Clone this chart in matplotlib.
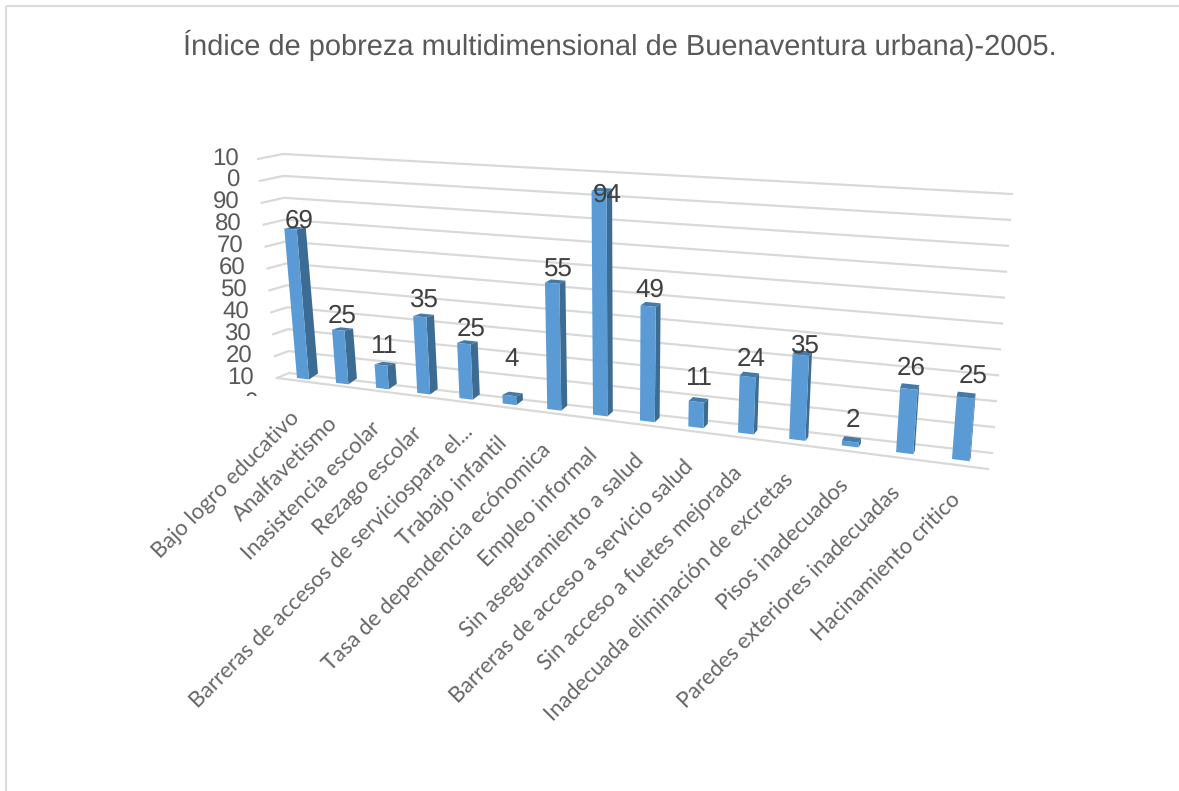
import matplotlib
matplotlib.use("Agg")
import matplotlib.pyplot as plt
from matplotlib.patches import Polygon, Rectangle

plt.rcParams["text.hinting"] = "no_hinting"
plt.rcParams["text.hinting_factor"] = 1

TITLE = "Índice de pobreza multidimensional de Buenaventura urbana)-2005."
categories = ["Bajo logro educativo", "Analfavetismo", "Inasistencia escolar", "Rezago escolar",
              "Barreras de accesos de serviciospara el...", "Trabajo infantil",
              "Tasa de dependencia ecónomica", "Empleo informal", "Sin aseguramiento a salud",
              "Barreras de acceso a servicio salud", "Sin acceso a fuetes mejorada",
              "Inadecuada eliminación de excretas", "Pisos inadecuados",
              "Paredes exteriores inadecuadas", "Hacinamiento critico"]
values = [69, 25, 11, 35, 25, 4, 55, 94, 49, 11, 24, 35, 2, 26, 25]
ticks = [0, 10, 20, 30, 40, 50, 60, 70, 80, 90, 100]

# nudges of the data labels, as the source chart placed them unevenly
label_dy = [-8, -13, -18, -16, -14, -35, -13, 4, -15, -23, -16, -8, -20, -20, -21]
label_dx = [9, 4, 3, 4, 7, 2, 6, 8, 2, 2, 4, 4, 3, 2, 7]
name_dx = [-2, -3, 0, 0, 9, 0, -1, 0, 0, 0, 0, 0, 2, 0, 4]
name_dy = [0, 0, 0, 0, -7, 0, 0, 0, 0, 0, 0, 0, 0, 0, 0]

W, H = 1179, 791
fig = plt.figure(figsize=(W / 100, H / 100), dpi=100, facecolor="white")
ax = fig.add_axes([0, 0, 1, 1])
ax.set_xlim(0, W)
ax.set_ylim(H, 0)
ax.axis("off")

GRID = "#d9d9d9"
FRONT, SIDE, TOP = "#5b9bd5", "#3c6b94", "#4479a8"
SANS = "Liberation Sans"
TICK_COLOR = "#595959"


# perspective scales of the pseudo-3D plot
def cat_x(i):
    return (297 + 34.85 * i) / (1 - 0.012535 * i)


def base_y(x):
    return 378 + 0.1237 * (x - 297)


def lean(x, v):
    return 0.00057 * (x - 620) * v


def rise(x, v):
    return v * (2.08 + 0.00058 * (x - 297)) * (1 + 0.0006 * v)


def draw_bar(i, v):
    xl = cat_x(i)
    xr = cat_x(i + 0.31)
    f = (xl - 297) / 655
    dx = 9 * (1 - (xl - 297) / 737)
    dy_b = -6 + 2.5 * f
    dy_t = -2 - 3 * f
    tl = (xl + lean(xl, v), base_y(xl) - rise(xl, v))
    tr = (xr + lean(xr, v), base_y(xr) - rise(xr, v))
    bl = (xl, base_y(xl))
    br = (xr, base_y(xr))
    tbr = (tr[0] + dx, tr[1] + dy_t)
    tbl = (tl[0] + dx, tl[1] + dy_t)
    bbr = (br[0] + dx, br[1] + dy_b)
    ax.add_patch(Polygon([tl, tr, tbr, tbl], closed=True, fc=TOP, ec="none", zorder=4))
    ax.add_patch(Polygon([br, bbr, tbr, tr], closed=True, fc=SIDE, ec="none", zorder=4))
    ax.add_patch(Polygon([bl, br, tr, tl], closed=True, fc=FRONT, ec="none", zorder=5))
    return (tl[0] + tr[0]) / 2, tl[1]


# chart frame (runs off the picture to the right and the bottom)
ax.add_patch(Rectangle((6, 6), W + 100, H + 100, fc="none", ec="#dcdcdc", lw=1.6, zorder=1))

# walls and floor
for t in ticks:
    fl = (277 - 0.19 * t, 378 - 2.19 * t)
    bl = (289 - 0.06 * t, 373 - 2.19 * t)
    br = (992 + 0.2 * t, 453 - 2.59 * t)
    ax.plot([fl[0], bl[0], br[0]], [fl[1], bl[1], br[1]], color=GRID, lw=1.6,
            solid_joinstyle="round", zorder=2)
ax.plot([277, 988], [378, 469], color=GRID, lw=1.6, zorder=2)

# value labels
for t in ticks:
    style = dict(ha="right", va="center", fontsize=17, family=SANS, color=TICK_COLOR)
    if t == 100:  # wrapped in the source chart
        ax.text(239, 160, "10", **style)
        ax.text(239, 181, "0", **style)
    elif t == 0:  # cut off by the plot box in the source chart
        txt = ax.text(257, 404, "0", clip_on=True, **style)
        txt.set_clip_path(Rectangle((200, 380), 100, 16, transform=ax.transData))
    else:
        ax.text(256 - 0.18 * t, 401 - 2.2 * t, str(t), **style)

# bars, labels, category names
for i, (v, name) in enumerate(zip(values, categories)):
    cx, top = draw_bar(i, v)
    ax.text(cx + label_dx[i], top + label_dy[i], str(v), ha="center", va="center", fontsize=18.5,
            family=SANS, color="#404040", zorder=6)
    x = cat_x(i)
    ax.text(x + 1 + name_dx[i], base_y(x) + 37 + name_dy[i], name, rotation=45, rotation_mode="anchor",
            ha="right", va="center", fontsize=15.5, family="Lato", color="#666666", zorder=6)

ax.text(620, 45, TITLE, ha="center", va="center", fontsize=20.9, family=SANS, color="#595959")

fig.savefig("out.png", dpi=100, facecolor="white")
